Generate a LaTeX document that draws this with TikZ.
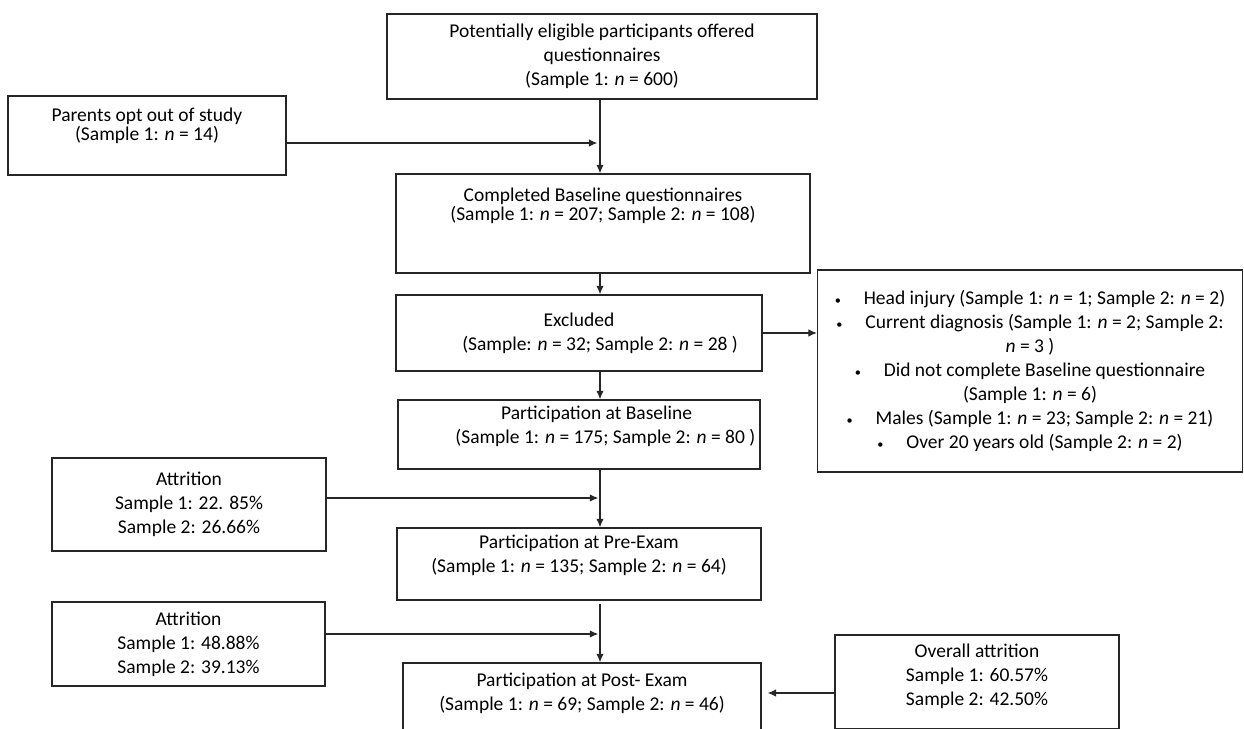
\documentclass[tikz,border=0pt]{standalone}
\usepackage{fontspec}
\setmainfont{Carlito}
\usetikzlibrary{arrows.meta}
\newcommand{\ncount}{\textit{n}}
\newcommand{\bul}{{\fontsize{7}{7}\selectfont •}\hspace{13pt}}

\begin{document}
\begin{tikzpicture}[x=0.02cm, y=-0.02cm,
  box/.style={draw=black!85, line width=0.8pt, align=center, inner sep=0pt,
    font=\fontsize{11.1}{13.6}\selectfont},
  tight/.style={font=\fontsize{11.1}{9.4}\selectfont},
  link/.style={draw=black!85, line width=0.6pt, -{Latex[length=4.8pt,width=4.2pt]}}]
  \useasboundingbox (0,0) rectangle (1244,729);
  \clip (0,0) rectangle (1244,729);

  % Hovedkolonne
  \node[box, minimum width=8.6cm, minimum height=1.7cm] (offered) at (602,56.5)
    {Potentially eligible participants offered\\questionnaires\\(Sample 1: \ncount{} = 600)};
  \node[box, tight, text depth=21.5pt, minimum width=8.28cm, minimum height=1.98cm] (completed) at (603,223.5)
    {Completed Baseline questionnaires\\(Sample 1: \ncount{} = 207; Sample 2: \ncount{} = 108)};
  \node[box, minimum width=7.32cm, minimum height=1.52cm] (excluded) at (579,333)
    {Excluded\\\hspace*{24pt}(Sample: \ncount{} = 32; Sample 2: \ncount{} = 28 )};
  \node[box, text depth=11.5pt, minimum width=7.24cm, minimum height=1.38cm] (baseline) at (579,434.5)
    {\hspace*{20pt}Participation at Baseline\\\hspace*{30pt}(Sample 1: \ncount{} = 175; Sample 2: \ncount{} = 80 )};
  \node[box, text depth=11.5pt, minimum width=7.28cm, minimum height=1.44cm] (preexam) at (579,564)
    {Participation at Pre-Exam\\(Sample 1: \ncount{} = 135; Sample 2: \ncount{} = 64)};
  \node[box, text depth=8.5pt, minimum width=7.16cm, minimum height=1.44cm] (postexam) at (582,699)
    {Participation at Post- Exam\\(Sample 1: \ncount{} = 69; Sample 2: \ncount{} = 46)};

  % Sidebokser
  \node[box, tight, text depth=13pt, minimum width=5.56cm, minimum height=1.58cm] (optout) at (147,135.5)
    {Parents opt out of study\\(Sample 1: \ncount{} = 14)};
  \node[box, minimum width=8.5cm, minimum height=4.04cm] (reasons) at (1030,371)
    {\bul Head injury (Sample 1: \ncount{} = 1; Sample 2: \ncount{} = 2)\\
     \bul Current diagnosis (Sample 1: \ncount{} = 2; Sample 2:\\
     \ncount{} = 3 )\\
     \bul Did not complete Baseline questionnaire\\
     (Sample 1: \ncount{} = 6)\\
     \bul Males (Sample 1: \ncount{} = 23; Sample 2: \ncount{} = 21)\\
     \bul Over 20 years old (Sample 2: \ncount{} = 2)};
  \node[box, minimum width=5.48cm, minimum height=1.86cm] (attrpre) at (189,504.5)
    {Attrition\\Sample 1: 22. 85\%\\Sample 2: 26.66\%};
  \node[box, minimum width=5.46cm, minimum height=1.68cm] (attrpost) at (188.5,644)
    {Attrition\\Sample 1: 48.88\%\\Sample 2: 39.13\%};
  \node[box, text depth=8.5pt, minimum width=5.68cm, minimum height=1.88cm] (overall) at (977,682)
    {Overall attrition\\Sample 1: 60.57\%\\Sample 2: 42.50\%};

  % Koblingspunkter
  \coordinate (optjoin) at (600,143);
  \coordinate (prejoin) at (600,498);
  \coordinate (postjoin) at (600,634);
  \coordinate (overjoin) at (800,693);

  % Piler nedover
  \draw[link] (offered.south -| optjoin) -- (completed.north -| optjoin);
  \draw[link] (completed.south -| optjoin) -- (excluded.north -| optjoin);
  \draw[link] (excluded.south -| optjoin) -- (baseline.north -| optjoin);
  \draw[link] (baseline.south -| optjoin) -- (preexam.north -| optjoin);
  \draw[link, shorten <=2pt] (preexam.south -| optjoin) -- (postexam.north -| optjoin);

  % Piler inn fra siden
  \draw[link, shorten >=1.5pt] (optout.east |- optjoin) -- (optjoin);
  \draw[link, shorten >=1pt] (attrpre.east |- prejoin) -- (prejoin);
  \draw[link, shorten >=1pt] (attrpost.east |- postjoin) -- (postjoin);
  \draw[link] (excluded.east) -- (excluded.east -| reasons.west);
  \draw[link, shorten >=3.4pt] (overall.west |- overjoin) -- (postexam.east |- overjoin);
\end{tikzpicture}
\end{document}
